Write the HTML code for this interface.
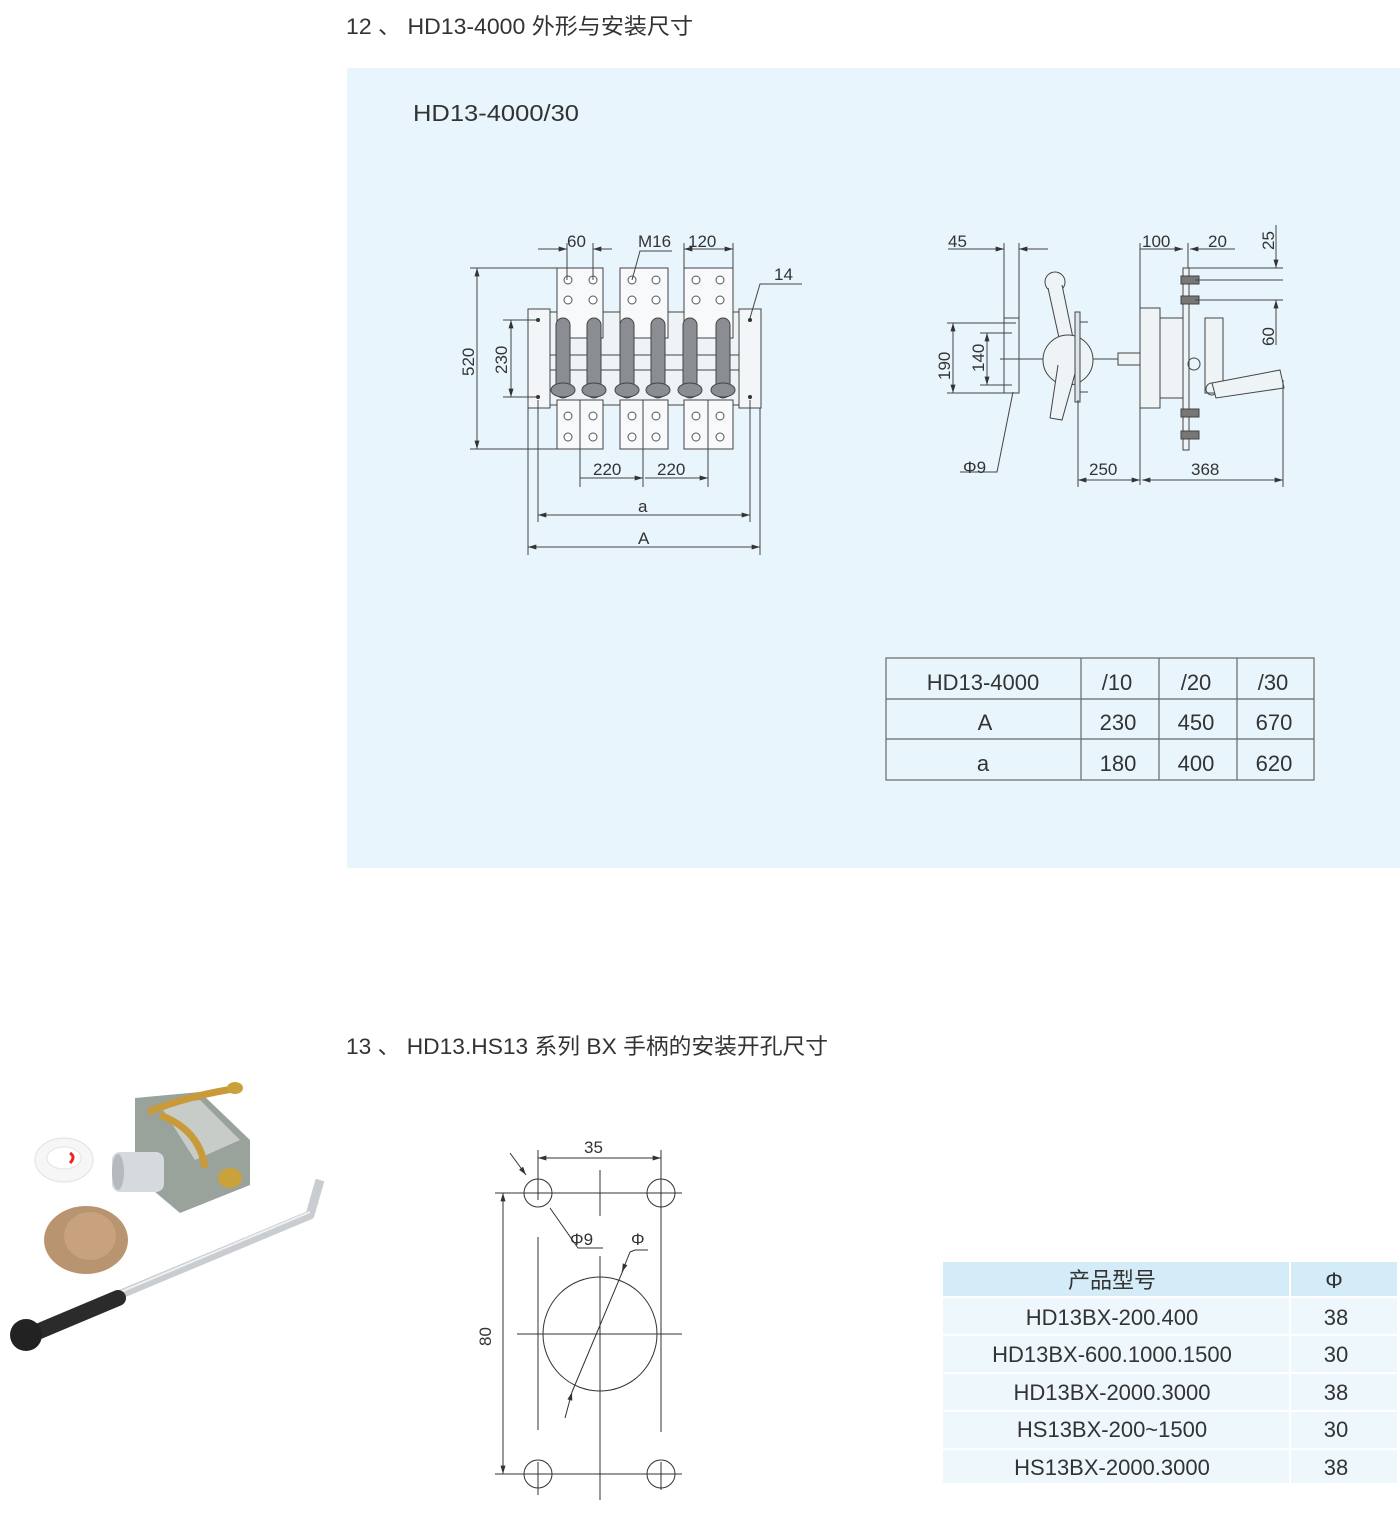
<!DOCTYPE html>
<html><head><meta charset="utf-8"><style>
body{margin:0;background:#fff;}
svg{display:block;font-family:"Liberation Sans","Noto Sans CJK SC",sans-serif;}
</style></head><body>
<svg width="1400" height="1515" viewBox="0 0 1400 1515" xmlns="http://www.w3.org/2000/svg">
<defs>
<marker id="ar" viewBox="0 0 10 6" refX="10" refY="3" markerWidth="9" markerHeight="5" orient="auto-start-reverse"><path d="M0,0L10,3L0,6z" fill="#333"/></marker>
</defs>
<text x="346" y="34" font-size="22" fill="#333" textLength="347" lengthAdjust="spacingAndGlyphs">12 、 HD13-4000 外形与安装尺寸</text>
<rect x="347" y="68" width="1053" height="800" fill="#e9f5fc"/>
<text x="413" y="121" font-size="23" fill="#333" textLength="166" lengthAdjust="spacingAndGlyphs">HD13-4000/30</text>

<!-- LEFT DRAWING -->
<g stroke="#444" stroke-width="1" fill="none">
 <rect x="528" y="309" width="22" height="99" fill="#f2f6f8"/>
 <rect x="739" y="309" width="22" height="99" fill="#f2f6f8"/>
 <rect x="550" y="312" width="189" height="93" fill="#eef3f6"/>
 <rect x="557" y="268" width="46" height="70" fill="#f7f9fa"/>
 <rect x="620" y="268" width="48" height="70" fill="#f7f9fa"/>
 <rect x="684" y="268" width="49" height="70" fill="#f7f9fa"/>
 <rect x="557" y="400" width="46" height="49" fill="#f7f9fa"/>
 <rect x="620" y="400" width="48" height="49" fill="#f7f9fa"/>
 <rect x="684" y="400" width="49" height="49" fill="#f7f9fa"/>
 <line x1="550" y1="355" x2="739" y2="355"/><line x1="550" y1="370" x2="739" y2="370"/>
</g>
<g fill="#8a8e92" stroke="#444" stroke-width="1">
 <rect x="556" y="318" width="14" height="80" rx="7"/><rect x="587" y="318" width="14" height="80" rx="7"/>
 <rect x="620" y="318" width="14" height="80" rx="7"/><rect x="651" y="318" width="14" height="80" rx="7"/>
 <rect x="683" y="318" width="14" height="80" rx="7"/><rect x="716" y="318" width="14" height="80" rx="7"/>
 <ellipse cx="563" cy="390" rx="12" ry="7"/><ellipse cx="594" cy="390" rx="12" ry="7"/>
 <ellipse cx="627" cy="390" rx="12" ry="7"/><ellipse cx="658" cy="390" rx="12" ry="7"/>
 <ellipse cx="690" cy="390" rx="12" ry="7"/><ellipse cx="723" cy="390" rx="12" ry="7"/>
</g>
<g stroke="#555" stroke-width="1" fill="#fff">
 <circle cx="568" cy="280" r="4"/><circle cx="593" cy="280" r="4"/><circle cx="568" cy="300" r="4"/><circle cx="593" cy="300" r="4"/>
 <circle cx="632" cy="280" r="4"/><circle cx="656" cy="280" r="4"/><circle cx="632" cy="300" r="4"/><circle cx="656" cy="300" r="4"/>
 <circle cx="696" cy="280" r="4"/><circle cx="720" cy="280" r="4"/><circle cx="696" cy="300" r="4"/><circle cx="720" cy="300" r="4"/>
 <circle cx="568" cy="416" r="4"/><circle cx="593" cy="416" r="4"/><circle cx="568" cy="437" r="4"/><circle cx="593" cy="437" r="4"/>
 <circle cx="632" cy="416" r="4"/><circle cx="656" cy="416" r="4"/><circle cx="632" cy="437" r="4"/><circle cx="656" cy="437" r="4"/>
 <circle cx="696" cy="416" r="4"/><circle cx="720" cy="416" r="4"/><circle cx="696" cy="437" r="4"/><circle cx="720" cy="437" r="4"/>
</g>
<g fill="#333"><circle cx="538" cy="320" r="2"/><circle cx="538" cy="397" r="2"/><circle cx="750" cy="320" r="2"/><circle cx="750" cy="397" r="2"/></g>
<g stroke="#444" stroke-width="1" fill="none">
 <line x1="538" y1="249" x2="567" y2="249" marker-end="url(#ar)"/><line x1="612" y1="249" x2="593" y2="249" marker-end="url(#ar)"/>
 <line x1="567" y1="243" x2="567" y2="280"/><line x1="593" y1="243" x2="593" y2="280"/>
 <polyline points="632,280 640,251 672,251"/>
 <line x1="684" y1="243" x2="684" y2="268"/><line x1="733" y1="243" x2="733" y2="268"/>
 <line x1="684" y1="249" x2="733" y2="249" marker-start="url(#ar)" marker-end="url(#ar)"/>
 <polyline points="750,318 760,284 802,284"/>
 <line x1="470" y1="268" x2="557" y2="268"/><line x1="470" y1="449" x2="557" y2="449"/>
 <line x1="477" y1="268" x2="477" y2="449" marker-start="url(#ar)" marker-end="url(#ar)"/>
 <line x1="503" y1="320" x2="538" y2="320"/><line x1="503" y1="397" x2="538" y2="397"/>
 <line x1="511" y1="320" x2="511" y2="397" marker-start="url(#ar)" marker-end="url(#ar)"/>
 <line x1="580" y1="400" x2="580" y2="487"/><line x1="643" y1="400" x2="643" y2="487"/><line x1="708" y1="400" x2="708" y2="487"/>
 <line x1="580" y1="478" x2="643" y2="478" marker-end="url(#ar)"/><line x1="645" y1="478" x2="708" y2="478" marker-end="url(#ar)"/>
 <line x1="538" y1="400" x2="538" y2="522"/><line x1="750" y1="400" x2="750" y2="522"/>
 <line x1="538" y1="515" x2="750" y2="515" marker-start="url(#ar)" marker-end="url(#ar)"/>
 <line x1="528" y1="408" x2="528" y2="555"/><line x1="760" y1="408" x2="760" y2="555"/>
 <line x1="528" y1="547" x2="760" y2="547" marker-start="url(#ar)" marker-end="url(#ar)"/>
</g>
<g font-size="17" fill="#333">
 <text x="567" y="247">60</text><text x="638" y="247">M16</text><text x="688" y="247">120</text><text x="774" y="280">14</text>
 <text x="593" y="475">220</text><text x="657" y="475">220</text><text x="638" y="512">a</text><text x="638" y="544">A</text>
 <text transform="translate(474,376) rotate(-90)">520</text><text transform="translate(507,374) rotate(-90)">230</text>
</g>

<!-- RIGHT DRAWING -->
<g stroke="#444" stroke-width="1" fill="none">
 <rect x="1004" y="318" width="15" height="75"/>
 <line x1="1004" y1="243" x2="1004" y2="318"/><line x1="1019" y1="243" x2="1019" y2="318"/>
 <line x1="948" y1="249" x2="1004" y2="249" marker-end="url(#ar)"/><line x1="1048" y1="249" x2="1019" y2="249" marker-end="url(#ar)"/>
 <line x1="947" y1="323" x2="1016" y2="323"/><line x1="947" y1="393" x2="1016" y2="393"/>
 <line x1="953" y1="323" x2="953" y2="393" marker-start="url(#ar)" marker-end="url(#ar)"/>
 <line x1="980" y1="333" x2="1012" y2="333"/><line x1="980" y1="385" x2="1012" y2="385"/>
 <line x1="987" y1="333" x2="987" y2="385" marker-start="url(#ar)" marker-end="url(#ar)"/>
 <polyline points="1013,392 997,472 960,472"/>
 <line x1="1000" y1="359" x2="1140" y2="359"/>
 <circle cx="1055" cy="282" r="10" fill="#eef3f6"/>
 <path d="M1048,288 L1065,365 L1078,362 L1062,285" fill="#eef3f6"/>
 <circle cx="1068" cy="360" r="25" fill="#eef3f6"/>
 <path d="M1058,365 L1050,418 L1062,420 L1076,370" fill="#eef3f6"/>
 <rect x="1075" y="312" width="5" height="90" fill="#dde4ea"/>
 <line x1="1080" y1="322" x2="1088" y2="322"/><line x1="1080" y1="392" x2="1088" y2="392"/>
 <rect x="1118" y="353" width="22" height="12" fill="#eef3f6"/>
 <rect x="1140" y="308" width="20" height="100" fill="#eef3f6"/>
 <rect x="1160" y="318" width="25" height="80" fill="#eef3f6"/>
 <rect x="1183" y="268" width="6" height="182" fill="#eef3f6"/>
 <rect x="1205" y="318" width="18" height="75" fill="#eef3f6"/>
 <circle cx="1194" cy="364" r="6"/><circle cx="1212" cy="389" r="6"/>
 <path d="M1212,383 L1280,370 L1284,388 L1216,398z" fill="#eef3f6"/>
 <g fill="#777"><rect x="1181" y="276" width="18" height="8"/><rect x="1181" y="296" width="18" height="8"/><rect x="1181" y="409" width="18" height="8"/><rect x="1181" y="431" width="18" height="8"/></g>
 <line x1="1140" y1="243" x2="1140" y2="485"/><line x1="1078" y1="400" x2="1078" y2="487"/><line x1="1283" y1="380" x2="1283" y2="487"/>
 <line x1="1188" y1="243" x2="1188" y2="268"/>
 <line x1="1140" y1="249" x2="1183" y2="249" marker-end="url(#ar)"/><line x1="1235" y1="249" x2="1190" y2="249" marker-end="url(#ar)"/>
 <line x1="1188" y1="268" x2="1283" y2="268"/><line x1="1195" y1="280" x2="1283" y2="280"/><line x1="1195" y1="300" x2="1283" y2="300"/>
 <line x1="1276" y1="225" x2="1276" y2="268" marker-end="url(#ar)"/><line x1="1276" y1="345" x2="1276" y2="300" marker-end="url(#ar)"/>
 <line x1="1078" y1="480" x2="1140" y2="480" marker-start="url(#ar)" marker-end="url(#ar)"/>
 <line x1="1142" y1="480" x2="1283" y2="480" marker-start="url(#ar)" marker-end="url(#ar)"/>
</g>
<g font-size="17" fill="#333">
 <text x="948" y="247">45</text><text x="1142" y="247">100</text><text x="1208" y="247">20</text>
 <text x="963" y="473">Φ9</text><text x="1089" y="475">250</text><text x="1191" y="475">368</text>
 <text transform="translate(950,380) rotate(-90)">190</text><text transform="translate(984,372) rotate(-90)">140</text>
 <text transform="translate(1274,250) rotate(-90)">25</text><text transform="translate(1274,346) rotate(-90)">60</text>
</g>

<!-- TABLE 1 -->
<g stroke="#666" stroke-width="1.2" fill="none">
 <rect x="886" y="658" width="428" height="122"/>
 <line x1="886" y1="699" x2="1314" y2="699"/><line x1="886" y1="739" x2="1314" y2="739"/>
 <line x1="1081" y1="658" x2="1081" y2="780"/><line x1="1159" y1="658" x2="1159" y2="780"/><line x1="1237" y1="658" x2="1237" y2="780"/>
</g>
<g font-size="22" fill="#333" text-anchor="middle">
 <text x="983" y="690">HD13-4000</text><text x="1117" y="690">/10</text><text x="1196" y="690">/20</text><text x="1273" y="690">/30</text>
 <text x="985" y="730">A</text><text x="1118" y="730">230</text><text x="1196" y="730">450</text><text x="1274" y="730">670</text>
 <text x="983" y="771">a</text><text x="1118" y="771">180</text><text x="1196" y="771">400</text><text x="1274" y="771">620</text>
</g>

<text x="346" y="1054" font-size="22" fill="#333" textLength="482" lengthAdjust="spacingAndGlyphs">13 、 HD13.HS13 系列 BX 手柄的安装开孔尺寸</text>

<!-- PHOTO -->
<g>
 <path d="M135,1098 L200,1092 L250,1140 L250,1185 L180,1213 L135,1175z" fill="#9aa29c"/>
 <path d="M160,1105 L200,1100 L240,1140 L195,1160z" fill="#c8ccc8"/>
 <rect x="112" y="1152" width="52" height="40" rx="8" fill="#d6dade"/>
 <ellipse cx="118" cy="1172" rx="6" ry="18" fill="#b5babf"/>
 <path d="M148,1112 Q190,1095 240,1088" stroke="#c89a3a" stroke-width="7" fill="none"/>
 <path d="M160,1115 Q200,1130 205,1168" stroke="#c89a3a" stroke-width="7" fill="none"/>
 <ellipse cx="235" cy="1088" rx="8" ry="6" fill="#c9a23c"/>
 <ellipse cx="230" cy="1178" rx="12" ry="10" fill="#c9a23c"/>
 <ellipse cx="64" cy="1160" rx="29" ry="22" fill="#f6f6f6" stroke="#e2e2e2"/>
 <ellipse cx="64" cy="1158" rx="17" ry="11" fill="#fff" stroke="#e4e4e4"/>
 <path d="M70,1153 q6,4 0,10" stroke="#e22" stroke-width="3" fill="none"/>
 <ellipse cx="86" cy="1240" rx="42" ry="34" fill="#b89470"/>
 <ellipse cx="90" cy="1236" rx="26" ry="24" fill="#c8a17e"/>
 <path d="M35,1330 L310,1215 L320,1180" stroke="#c9ccd0" stroke-width="9" fill="none" stroke-linejoin="round"/>
 <path d="M40,1326 L310,1212" stroke="#eef0f2" stroke-width="2" fill="none"/>
 <path d="M30,1335 L118,1298" stroke="#2b2b2b" stroke-width="16" stroke-linecap="round"/>
 <circle cx="26" cy="1335" r="16" fill="#222"/>
</g>

<!-- BOTTOM DRAWING -->
<g stroke="#333" stroke-width="1" fill="none">
 <circle cx="538" cy="1193" r="14"/><circle cx="661" cy="1193" r="14"/>
 <circle cx="538" cy="1474" r="14"/><circle cx="661" cy="1474" r="14"/>
 <circle cx="600" cy="1334" r="57"/>
 <line x1="495" y1="1193" x2="682" y2="1193"/><line x1="495" y1="1474" x2="682" y2="1474"/>
 <line x1="517" y1="1334" x2="682" y2="1334"/>
 <line x1="538" y1="1150" x2="538" y2="1200"/><line x1="538" y1="1237" x2="538" y2="1430"/><line x1="538" y1="1462" x2="538" y2="1495"/>
 <line x1="600" y1="1170" x2="600" y2="1216"/><line x1="600" y1="1256" x2="600" y2="1500"/>
 <line x1="661" y1="1150" x2="661" y2="1432"/><line x1="661" y1="1462" x2="661" y2="1490"/>
 <line x1="538" y1="1158" x2="661" y2="1158" marker-start="url(#ar)" marker-end="url(#ar)"/>
 <line x1="503" y1="1193" x2="503" y2="1474" marker-start="url(#ar)" marker-end="url(#ar)"/>
 <line x1="510" y1="1153" x2="526" y2="1175" marker-end="url(#ar)"/>
 <polyline points="550,1208 578,1248 603,1248"/>
 <line x1="565" y1="1418" x2="572" y2="1392" marker-end="url(#ar)"/>
 <line x1="572" y1="1392" x2="624" y2="1268"/>
 <polyline points="630,1252 635,1250 648,1250"/>
 <line x1="622" y1="1272" x2="630" y2="1252" marker-start="url(#ar)"/>
</g>
<g font-size="17" fill="#333">
 <text x="584" y="1153">35</text><text x="570" y="1245">Φ9</text><text x="631" y="1245">Φ</text>
 <text transform="translate(491,1346) rotate(-90)">80</text>
</g>

<!-- TABLE 2 -->
<rect x="943" y="1262" width="454" height="34" fill="#d4ecf7"/>
<rect x="943" y="1298" width="454" height="36" fill="#eef7fc"/>
<rect x="943" y="1336" width="454" height="36" fill="#eef7fc"/>
<rect x="943" y="1374" width="454" height="36" fill="#eef7fc"/>
<rect x="943" y="1412" width="454" height="36" fill="#eef7fc"/>
<rect x="943" y="1450" width="454" height="33" fill="#eef7fc"/>
<line x1="1290" y1="1262" x2="1290" y2="1483" stroke="#fff" stroke-width="2"/>
<g font-size="22" fill="#333" text-anchor="middle">
 <text x="1112" y="1288">产品型号</text><text x="1334" y="1288">Φ</text>
 <text x="1112" y="1325">HD13BX-200.400</text><text x="1336" y="1325">38</text>
 <text x="1112" y="1362">HD13BX-600.1000.1500</text><text x="1336" y="1362">30</text>
 <text x="1112" y="1400">HD13BX-2000.3000</text><text x="1336" y="1400">38</text>
 <text x="1112" y="1437">HS13BX-200~1500</text><text x="1336" y="1437">30</text>
 <text x="1112" y="1475">HS13BX-2000.3000</text><text x="1336" y="1475">38</text>
</g>
</svg>
</body></html>
